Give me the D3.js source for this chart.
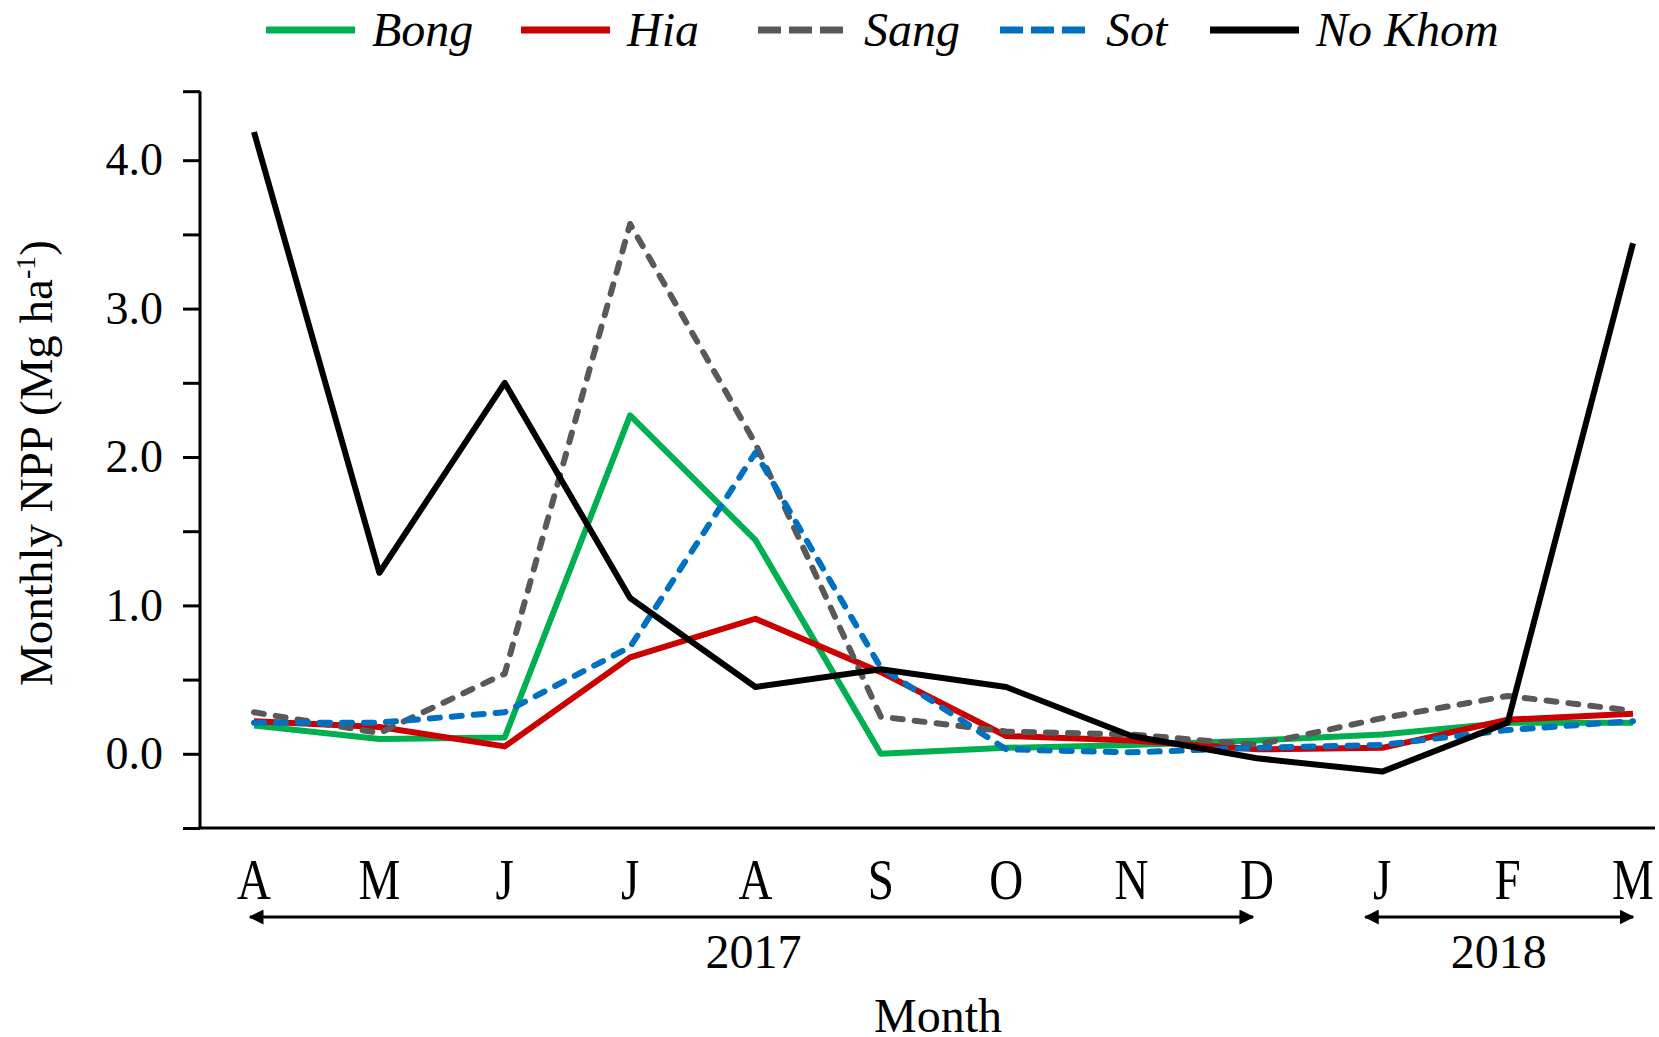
<!DOCTYPE html>
<html>
<head>
<meta charset="utf-8">
<title>Monthly NPP</title>
<style>
body { margin: 0; background: #fff; }
text { font-family: "Liberation Serif", "Times New Roman", serif; fill: #000; }
.axis path, .axis line { stroke: #000; stroke-width: 3px; }
.line { fill: none; stroke-linejoin: round; }
</style>
</head>
<body>
<script src="https://cdn.jsdelivr.net/npm/d3@7/dist/d3.min.js"></script>
<script>

// months Apr 2017 - Mar 2018
var months = ["A", "M", "J", "J", "A", "S", "O", "N", "D", "J", "F", "M"];
var monthIds = d3.range(months.length);

var bong   = [0.19, 0.10, 0.11, 2.28, 1.44, 0.00, 0.04, 0.06, 0.09, 0.13, 0.21, 0.21];
var hia    = [0.22, 0.18, 0.05, 0.65, 0.91, 0.55, 0.12, 0.09, 0.03, 0.04, 0.23, 0.27];
var sang   = [0.28, 0.14, 0.54, 3.57, 2.09, 0.25, 0.15, 0.13, 0.06, 0.24, 0.39, 0.29];
var sot    = [0.21, 0.21, 0.28, 0.72, 2.03, 0.58, 0.03, 0.01, 0.04, 0.06, 0.16, 0.22];
var noKhom = [4.19, 1.22, 2.50, 1.05, 0.45, 0.57, 0.45, 0.12, -0.03, -0.12, 0.21, 3.44];

var seriesNames = ["Bong", "Hia", "Sang", "Sot", "No Khom"];
var years = [{label: "2017", from: 0, to: 8}, {label: "2018", from: 9, to: 11}];

var series = [
  {name: "Bong", values: bong, color: "#00b050", dash: null},
  {name: "Hia", values: hia, color: "#cc0000", dash: null},
  {name: "Sang", values: sang, color: "#595959", dash: "10,12"},
  {name: "Sot", values: sot, color: "#0070c0", dash: "10,12"},
  {name: "No Khom", values: noKhom, color: "#000000", dash: null}
];

var width = 1659, height = 1037;
var x0 = 200, x1 = 1655, yBottom = 828;

var svg = d3.select("body").append("svg")
    .attr("width", width)
    .attr("height", height);

var x = d3.scalePoint()
    .domain(monthIds)
    .range([254, 1633]);

var y = d3.scaleLinear()
    .domain([-0.5, 4.5])
    .range([yBottom, 86]);

var yMax = 4.465;

// y axis
var yAxis = d3.axisLeft(y)
    .tickValues(d3.range(-0.5, 4.01, 0.5).concat([yMax]))
    .tickSize(17)
    .tickSizeOuter(0)
    .tickFormat(function(d) { return Number.isInteger(d) ? d3.format(".1f")(d) : ""; });

var gy = svg.append("g")
    .attr("class", "axis")
    .attr("transform", "translate(" + x0 + ",0)")
    .call(yAxis);
gy.select(".domain")
    .attr("d", "M0," + y(yMax) + "V" + yBottom);
gy.selectAll("text")
    .attr("x", -37)
    .style("font-size", "46px")
    .style("font-family", "'Liberation Serif', 'Times New Roman', serif");

// x axis line only
svg.append("line")
    .attr("x1", x0 - 1.5).attr("x2", x1)
    .attr("y1", yBottom).attr("y2", yBottom)
    .attr("stroke", "#000").attr("stroke-width", 3);

// month labels (tall, narrow letters as in the original)
svg.append("g").selectAll("text")
    .data(monthIds)
    .enter().append("text")
    .attr("transform", function(d) { return "translate(" + x(d) + ",899) scale(0.84,1)"; })
    .attr("text-anchor", "middle")
    .style("font-size", "56px")
    .text(function(d) { return months[d]; });

// year arrows
var defs = svg.append("defs");
defs.append("marker")
    .attr("id", "arrow")
    .attr("viewBox", "0 0 10 10")
    .attr("refX", 9).attr("refY", 5)
    .attr("markerWidth", 5).attr("markerHeight", 5)
    .attr("markerUnits", "strokeWidth")
    .attr("orient", "auto-start-reverse")
    .append("path")
    .attr("d", "M0,0 L10,5 L0,10 z")
    .attr("fill", "#000");

var yr = svg.append("g").selectAll("g")
    .data(years)
    .enter().append("g");
yr.append("line")
    .attr("x1", function(d) { return x(d.from) - (d.from === 0 ? 4 : 17); })
    .attr("x2", function(d) { return x(d.to) - (d.to === 8 ? 4 : 0); })
    .attr("y1", 917).attr("y2", 917)
    .attr("stroke", "#000").attr("stroke-width", 3)
    .attr("marker-start", "url(#arrow)")
    .attr("marker-end", "url(#arrow)");
yr.append("text")
    .attr("x", function(d) { return (x(d.from) + x(d.to)) / 2 - (d.from === 0 ? 2 : 9); })
    .attr("y", 968)
    .attr("text-anchor", "middle")
    .style("font-size", "48px")
    .text(function(d) { return d.label; });

svg.append("text")
    .attr("x", 938)
    .attr("y", 1032)
    .attr("text-anchor", "middle")
    .style("font-size", "48px")
    .text("Month");

// y title
var yt = svg.append("text")
    .attr("transform", "translate(52,463) rotate(-90)")
    .attr("text-anchor", "middle")
    .style("font-size", "47px");
yt.append("tspan").text("Monthly NPP (Mg ha");
yt.append("tspan").attr("dy", -17).style("font-size", "28px").text("-1");
yt.append("tspan").attr("dy", 17).text(")");

// lines
var line = d3.line()
    .x(function(d, i) { return x(i); })
    .y(function(d) { return y(d); });

svg.append("g").selectAll("path")
    .data(series)
    .enter().append("path")
    .attr("class", "line")
    .attr("d", function(d) { return line(d.values); })
    .attr("stroke", function(d) { return d.color; })
    .attr("stroke-width", 6)
    .attr("stroke-dasharray", function(d) { return d.dash; })
    .attr("stroke-linecap", function(d) { return d.dash ? "round" : "butt"; });

// legend, item starts
var legendX = [266, 521, 758, 1000, 1210];
var legend = svg.append("g");
seriesNames.forEach(function(name, i) {
  var s = series.find(function(d) { return d.name === name; });
  var lx = legendX[i];
  legend.append("line")
    .attr("x1", lx).attr("x2", lx + 89)
    .attr("y1", 30).attr("y2", 30)
    .attr("stroke", s.color)
    .attr("stroke-width", 7)
    .attr("stroke-dasharray", s.dash ? "23,8" : null);
  legend.append("text")
    .attr("x", lx + 106)
    .attr("y", 46)
    .style("font-size", "48px")
    .style("font-style", "italic")
    .text(name);
});

</script>
</body>
</html>
